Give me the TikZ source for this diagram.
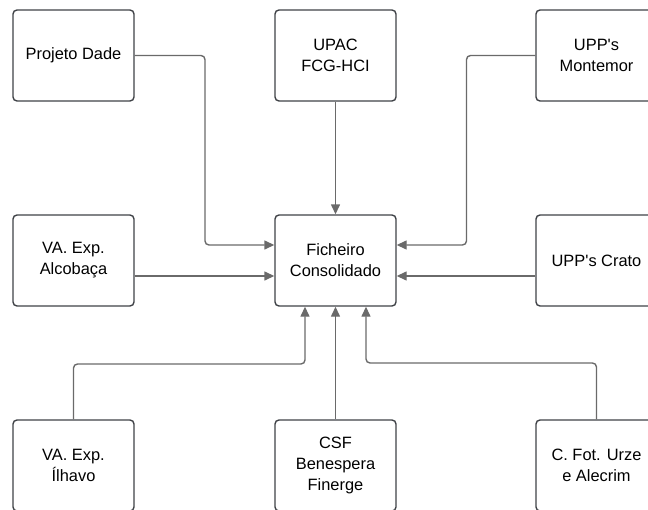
\documentclass[tikz,border=0pt]{standalone}
\usepackage{fontspec}
\setmainfont{Liberation Sans}
\usetikzlibrary{arrows.meta}
\definecolor{boxline}{HTML}{3F4247}
\definecolor{conn}{HTML}{6A6A6A}
\tikzset{
  box/.style={draw=boxline, line width=1.4pt, rounded corners=4pt, minimum width=121pt, minimum height=91pt, inner sep=0pt, align=center, font=\fontsize{16.4}{21}\selectfont},
  link/.style={draw=conn, line width=1.4pt, rounded corners=4pt, -{Triangle[length=10pt,width=9pt]}}
}
\begin{document}
\begin{tikzpicture}[x=1pt,y=1pt]
\useasboundingbox (0,0) rectangle (648,-509);
\clip (0,0) rectangle (648,-509);
\node[box] (dade) at (73.5,-55.5) {Projeto Dade};
\node[box] (upac) at (335.5,-55.5) {UPAC\\FCG-HCI};
\node[box] (mont) at (596.5,-55.5) {UPP\textquotesingle s\\Montemor};
\node[box] (alc) at (73.5,-260.5) {VA. Exp.\\Alcobaça};
\node[box] (fich) at (335.5,-260.5) {Ficheiro\\Consolidado};
\node[box] (crato) at (596.5,-260.5) {UPP\textquotesingle s Crato};
\node[box] (ilh) at (73.5,-465.5) {VA. Exp.\\Ílhavo};
\node[box] (csf) at (335.5,-465.5) {CSF\\Benespera\\Finerge};
\node[box] (cfot) at (596.5,-465.5) {C. Fot. Urze\\e Alecrim};
\coordinate (c1) at (205,-55.5);
\coordinate (c2) at (205,-245);
\coordinate (c3) at (466.5,-55.5);
\coordinate (c4) at (466.5,-245);
\coordinate (c5) at (73.5,-364);
\coordinate (c6) at (305,-364);
\coordinate (c7) at (596.5,-363);
\coordinate (c8) at (366,-363);
\draw[link] (dade.east) -- (c1) -- (c2) -- ([yshift=15.5pt]fich.west);
\draw[link] (mont.west) -- (c3) -- (c4) -- ([yshift=15.5pt]fich.east);
\draw[link] (upac.south) -- (fich.north);
\draw[link] ([yshift=-15.5pt]alc.east) -- ([yshift=-15.5pt]fich.west);
\draw[link] ([yshift=-15.5pt]crato.west) -- ([yshift=-15.5pt]fich.east);
\draw[link] (ilh.north) -- (c5) -- (c6) -- ([xshift=-30.5pt]fich.south);
\draw[link] (csf.north) -- (fich.south);
\draw[link] (cfot.north) -- (c7) -- (c8) -- ([xshift=30.5pt]fich.south);
\end{tikzpicture}
\end{document}
